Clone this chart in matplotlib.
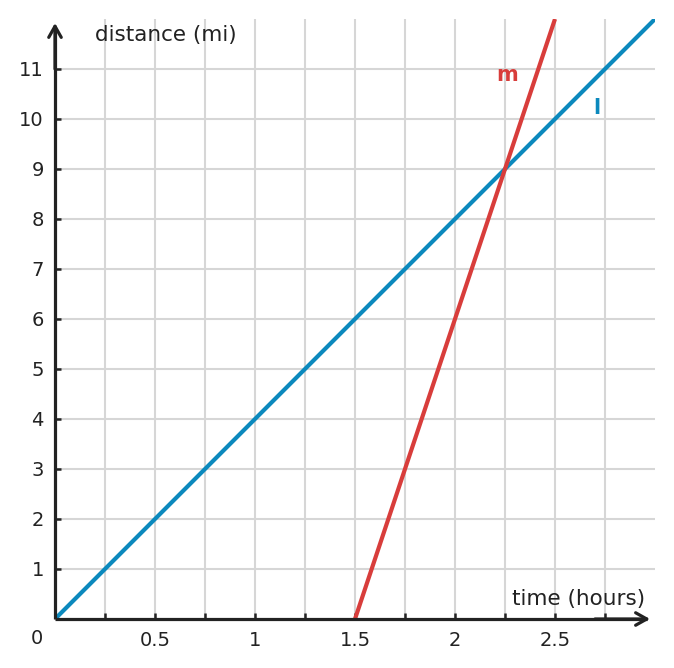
import matplotlib
matplotlib.use("Agg")
import matplotlib.pyplot as plt
import numpy as np

# data
l_x = [0, 3]
l_y = [0, 12]
m_x = [1.5, 2.5]
m_y = [0, 12]
x_ticks = [0.25, 0.5, 0.75, 1, 1.25, 1.5, 1.75, 2, 2.25, 2.5, 2.75]
x_labels = ["", "0.5", "", "1", "", "1.5", "", "2", "", "2.5", ""]
y_ticks = [1, 2, 3, 4, 5, 6, 7, 8, 9, 10, 11]
y_labels = [str(v) for v in y_ticks]

BLUE = "#0b89bd"
RED = "#d83d3b"
AX = "#222222"
GRID = "#d6d6d6"

fig = plt.figure(figsize=(6.74, 6.68), dpi=100)
ax = fig.add_axes([55/674, 49/668, 600/674, 600/668])
ax.set_xlim(0, 3)
ax.set_ylim(0, 12)
for s in ax.spines.values():
    s.set_visible(False)

ax.set_xticks(x_ticks)
ax.set_xticklabels(x_labels)
ax.set_yticks(y_ticks)
ax.set_yticklabels(y_labels)
ax.tick_params(direction="in", length=4.5, width=1.8, color=AX, labelsize=14,
               labelcolor=AX)
ax.tick_params(axis="x", pad=9)
ax.tick_params(axis="y", pad=8)
ax.grid(True, color=GRID, linewidth=1.5, zorder=0)
ax.set_axisbelow(True)

ax.plot(l_x, l_y, color=BLUE, linewidth=3.0, solid_capstyle="butt", zorder=3)
ax.plot(m_x, m_y, color=RED, linewidth=3.0, solid_capstyle="butt", zorder=3)

# axes lines with arrow heads
ax.plot([0, 0], [0, 11.85], color=AX, lw=2.3, clip_on=False, zorder=5,
        solid_capstyle="butt")
ax.plot([0, 2.96], [0, 0], color=AX, lw=2.3, clip_on=False, zorder=5,
        solid_capstyle="butt")
ax.annotate("", xy=(0, 11.92), xytext=(0, 11.0),
            arrowprops=dict(arrowstyle="->,head_length=0.8,head_width=0.45", color=AX, lw=2.3,
                            shrinkA=0, shrinkB=0, mutation_scale=10),
            annotation_clip=False, zorder=6)
ax.annotate("", xy=(2.975, 0), xytext=(2.7, 0),
            arrowprops=dict(arrowstyle="->,head_length=0.8,head_width=0.45", color=AX, lw=2.3,
                            shrinkA=0, shrinkB=0, mutation_scale=10),
            annotation_clip=False, zorder=6)

ax.text(-0.09, -0.38, "0", fontsize=14, color=AX, ha="center", va="center")
ax.text(0.2, 11.68, "distance (mi)", fontsize=15.5, color=AX, ha="left", va="center")
ax.text(2.95, 0.4, "time (hours)", fontsize=15.5, color=AX, ha="right", va="center")
ax.text(2.26, 10.88, "m", fontsize=15, color=RED, fontweight="bold", ha="center", va="center")
ax.text(2.71, 10.22, "l", fontsize=15, color=BLUE, fontweight="bold", ha="center", va="center")

fig.savefig("out.png", dpi=100)
